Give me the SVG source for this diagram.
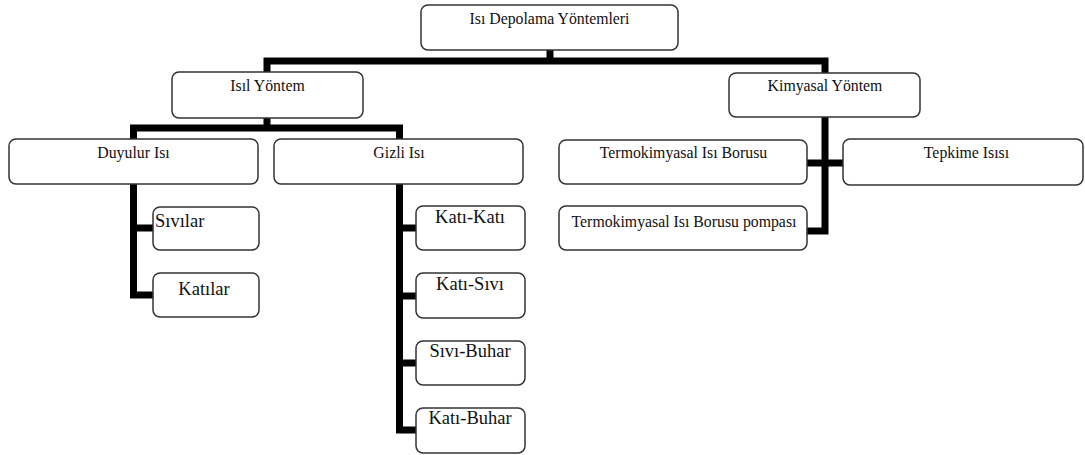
<svg xmlns="http://www.w3.org/2000/svg" width="1085" height="455" viewBox="0 0 1085 455">
<style>
.box{fill:#fff;stroke:#333;stroke-width:1.5}
text{font-family:'Liberation Serif','Times New Roman',Times,serif;fill:#111;text-anchor:middle}
.t{font-size:15.8px}
.s{font-size:18.5px}
.c{fill:none;stroke:#000;stroke-width:7;stroke-linejoin:miter}
</style>
<rect width="1085" height="455" fill="#fff"/>
<g id="connectors">
<path class="c" d="M550,50 V61"/>
<path class="c" d="M267,72 V61 H825 V73"/>
<path class="c" d="M825,117 V231 H807"/>
<path class="c" d="M807,163 H843"/>
<path class="c" d="M267,118 V128"/>
<path class="c" d="M133.5,139 V128 H399.5 V139"/>
<path class="c" d="M133.5,184 V295 H153"/>
<path class="c" d="M133.5,228 H153"/>
<path class="c" d="M399.5,184 V430 H416"/>
<path class="c" d="M399.5,228 H416"/>
<path class="c" d="M399.5,296 H416"/>
<path class="c" d="M399.5,363 H416"/>
</g>
<g font-family="Liberation Serif, serif">
<g id="root"><rect class="box" x="421" y="5" width="257" height="45" rx="7"/><text class="t" x="549.5" y="24">Isı Depolama Yöntemleri</text></g>
<g id="isil"><rect class="box" x="172" y="72" width="191" height="46" rx="7"/><text class="t" x="267.5" y="91">Isıl Yöntem</text></g>
<g id="kimyasal"><rect class="box" x="729" y="73" width="191" height="44" rx="7"/><text class="t" x="825" y="91">Kimyasal Yöntem</text></g>
<g id="duyulur"><rect class="box" x="9" y="139" width="249" height="45" rx="7"/><text class="t" x="133.5" y="158">Duyulur Isı</text></g>
<g id="gizli"><rect class="box" x="274" y="139" width="249" height="45" rx="7"/><text class="t" x="399" y="158">Gizli Isı</text></g>
<g id="termo"><rect class="box" x="559" y="140" width="248" height="44" rx="7"/><text class="t" x="683.5" y="158">Termokimyasal Isı Borusu</text></g>
<g id="tepkime"><rect class="box" x="843" y="139" width="240" height="46" rx="7"/><text class="t" x="966.5" y="158">Tepkime Isısı</text></g>
<g id="pompasi"><rect class="box" x="559" y="206" width="248" height="44" rx="7"/><text class="t" x="684" y="227">Termokimyasal Isı Borusu pompası</text></g>
<g id="sivilar"><rect class="box" x="153" y="207" width="106" height="43" rx="7"/><text class="s" x="155" y="227" style="text-anchor:start">Sıvılar</text></g>
<g id="katilar"><rect class="box" x="153" y="273" width="106" height="44" rx="7"/><text class="s" x="204" y="295">Katılar</text></g>
<g id="kati-kati"><rect class="box" x="416" y="206" width="109" height="44" rx="7"/><text class="s" x="470" y="223">Katı-Katı</text></g>
<g id="kati-sivi"><rect class="box" x="416" y="273" width="109" height="45" rx="7"/><text class="s" x="470" y="290">Katı-Sıvı</text></g>
<g id="sivi-buhar"><rect class="box" x="416" y="341" width="109" height="44" rx="7"/><text class="s" x="470" y="357">Sıvı-Buhar</text></g>
<g id="kati-buhar"><rect class="box" x="416" y="408" width="109" height="45" rx="7"/><text class="s" x="470" y="424">Katı-Buhar</text></g>
</g>
</svg>
